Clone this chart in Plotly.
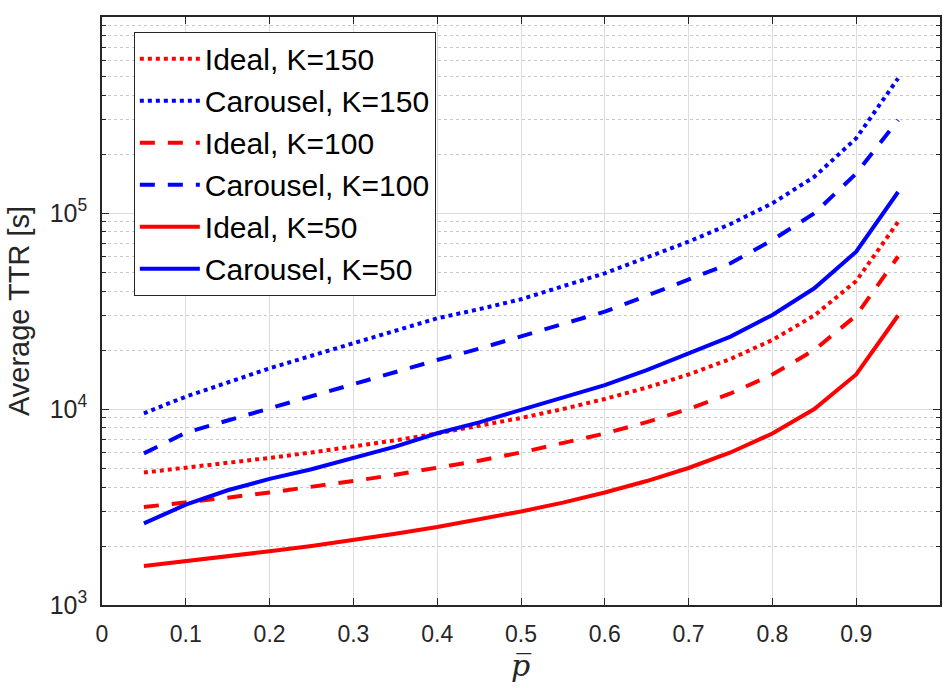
import plotly.graph_objects as go

p_bar = [0.05, 0.10, 0.15, 0.20, 0.25, 0.30, 0.35, 0.40, 0.45, 0.50,
         0.55, 0.60, 0.65, 0.70, 0.75, 0.80, 0.85, 0.90, 0.95]

ideal_k150 = [4740, 5000, 5290, 5630, 6000, 6430, 6920, 7500, 8180, 9000,
              10000, 11250, 12860, 15000, 18000, 22500, 30000, 45000, 90000]
carousel_k150 = [9510, 11560, 13650, 16130, 18700, 21650, 25100, 29030, 32300, 36290,
                 42300, 49250, 59300, 71400, 87900, 112000, 153000, 240500, 486600]
ideal_k100 = [3160, 3330, 3530, 3750, 4000, 4290, 4620, 5000, 5450, 6000,
              6670, 7500, 8570, 10000, 12000, 15000, 20000, 30000, 60000]
carousel_k100 = [5940, 7570, 8740, 10080, 11630, 13420, 15450, 17780, 20300, 23380,
                 27100, 31380, 37800, 45510, 55400, 72800, 99600, 159000, 298000]
ideal_k50 = [1580, 1670, 1760, 1880, 2000, 2140, 2310, 2500, 2730, 3000,
             3330, 3750, 4290, 5000, 6000, 7500, 10000, 15000, 30000]
carousel_k50 = [2610, 3250, 3850, 4400, 4930, 5650, 6430, 7520, 8550, 9890,
                11500, 13250, 15800, 19240, 23400, 30200, 41300, 63500, 128000]

series = [
    ("Ideal, K=150", ideal_k150, "#ff0000", "4px,4px"),
    ("Carousel, K=150", carousel_k150, "#0000ff", "4px,4px"),
    ("Ideal, K=100", ideal_k100, "#ff0000", "15px,13px"),
    ("Carousel, K=100", carousel_k100, "#0000ff", "15px,13px"),
    ("Ideal, K=50", ideal_k50, "#ff0000", "solid"),
    ("Carousel, K=50", carousel_k50, "#0000ff", "solid"),
]

x_ticks = [0, 0.1, 0.2, 0.3, 0.4, 0.5, 0.6, 0.7, 0.8, 0.9, 1]
x_tick_labels = ["0", "0.1", "0.2", "0.3", "0.4", "0.5", "0.6", "0.7", "0.8", "0.9", "1"]
y_ticks = [1e3, 1e4, 1e5, 1e6]
y_tick_labels = ["10<sup>3</sup>", "10<sup>4</sup>", "10<sup>5</sup>", "10<sup>6</sup>"]

fig = go.Figure()
for i, (name, vals, col, dash) in enumerate(series):
    fig.add_trace(go.Scatter(
        x=p_bar, y=vals, mode="lines", name=name,
        line=dict(color=col, width=4, dash=dash),
    ))

axcol = "#262626"
font_family = "Liberation Sans, Arial, sans-serif"

fig.update_layout(
    width=946, height=688,
    margin=dict(l=102, r=4, t=17, b=83),
    paper_bgcolor="white", plot_bgcolor="white",
    font=dict(family=font_family, color=axcol, size=23),
    showlegend=True,
    legend=dict(
        x=0.038, y=0.975, xanchor="left", yanchor="top",
        bgcolor="white", bordercolor="#262626", borderwidth=1,
        font=dict(size=30, color="black", family=font_family),
        itemwidth=60,
    ),
)

fig.update_xaxes(
    range=[0, 1], tickvals=x_ticks, ticktext=x_tick_labels,
    showline=True, linecolor=axcol, linewidth=1.5, mirror="ticks",
    ticks="inside", ticklen=7, tickcolor=axcol, tickwidth=1,
    showgrid=True, gridcolor="#dcdcdc", gridwidth=1,
    zeroline=False, ticklabelstandoff=8,
    tickfont=dict(size=23, color=axcol),
)

fig.update_yaxes(
    type="log", range=[3, 6], tickvals=y_ticks, ticktext=y_tick_labels,
    showline=True, linecolor=axcol, linewidth=1.5, mirror="ticks",
    ticks="inside", ticklen=7, tickcolor=axcol, tickwidth=1,
    showgrid=True, gridcolor="#dcdcdc", gridwidth=1,
    zeroline=False, ticklabelstandoff=8,
    tickfont=dict(size=25, color=axcol),
    minor=dict(dtick="D1", ticks="inside", ticklen=4, tickcolor=axcol,
               showgrid=True, gridcolor="#c8c8c8", griddash="dot", gridwidth=1),
    title=dict(text="Average TTR [s]", font=dict(size=29, color=axcol), standoff=12),
)

fig.add_annotation(
    x=0.5, y=-0.136, xref="paper", yref="paper",
    text="<i>p\u0305</i>", showarrow=False,
    font=dict(size=30, family="DejaVu Serif, serif", color=axcol),
    xanchor="center", yanchor="bottom",
)

fig.write_html("out.html")
